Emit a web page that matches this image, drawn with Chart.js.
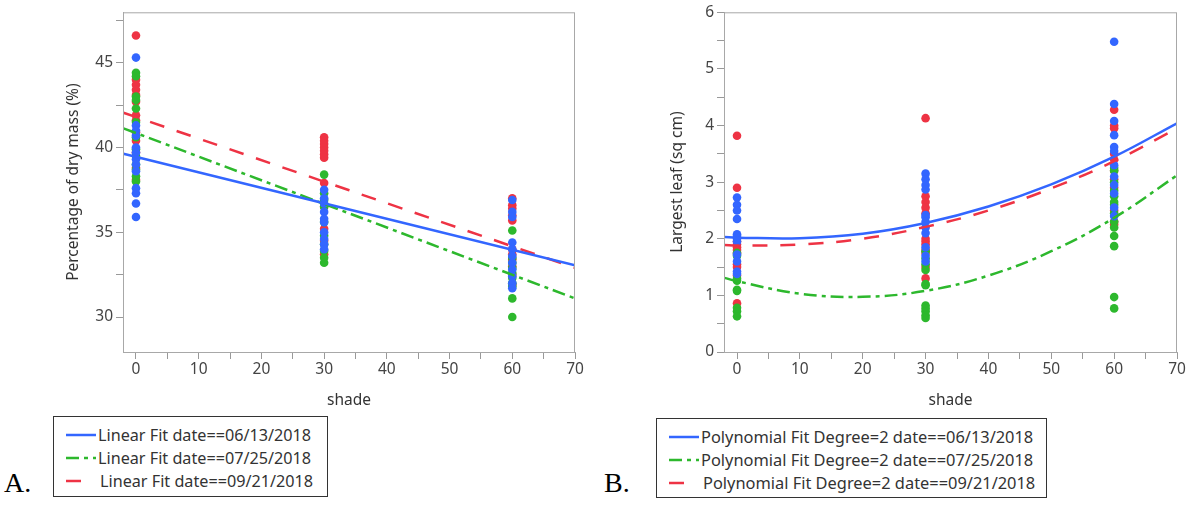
<!DOCTYPE html>
<html>
<head>
<meta charset="utf-8">
<script src="https://cdn.jsdelivr.net/npm/chart.js@4.4.1/dist/chart.umd.min.js"></script>
<style>
  body { margin: 0; background: #fff; width: 1189px; height: 505px; position: relative; overflow: hidden; font-family: 'Noto Sans', sans-serif; }
  .wrap { position: absolute; top: 0; height: 410px; }
  .legend { position: absolute; border: 1px solid #333; background: #fff; color: #333; padding: 6px 0 0 0; box-sizing: border-box; }
  .row { height: 23px; display: flex; align-items: center; white-space: nowrap; }
  .row svg { margin-left: 12px; margin-right: 2px; }
  .tag { position: absolute; font-family: 'Liberation Serif', serif; font-size: 28px; color: #000; }
</style>
</head>
<body>
<div class="wrap" style="left:0;width:590px"><canvas id="chartA"></canvas></div>
<div class="wrap" style="left:600px;width:589px"><canvas id="chartB"></canvas></div>

<div class="tag" style="left:4px;top:467px">A.</div>
<div class="tag" style="left:604px;top:467px">B.</div>
<div class="legend" id="legA" style="left:53px;top:416px;width:275px;height:81px;font-size:16.2px"></div>
<div class="legend" id="legB" style="left:656px;top:418px;width:391px;height:80px;font-size:16.4px"></div>

<script>
// colours / dates
const dates = ['06/13/2018', '07/25/2018', '09/21/2018'];
const colors = ['#3366FF', '#2DB82D', '#EE3344'];
const dashes = [[], [13, 5, 4, 5], [15, 13]];

// --- A: percentage of dry mass, points at shade 0 / 30 / 60
const dryBlue0 = [45.3, 41.3, 41.0, 40.7, 40.0, 39.7, 39.3, 39.0, 38.6, 37.6, 37.3, 36.7, 35.9];
const dryGreen0 = [44.4, 44.2, 43.0, 42.8, 42.3, 41.5, 40.6, 39.9, 39.5, 39.0, 38.7, 38.3, 38.0];
const dryRed0 = [46.6, 44.0, 43.7, 43.4, 43.1, 42.7, 41.9, 41.6, 40.9, 40.4, 39.7, 38.8, 38.1];
const dryBlue30 = [37.5, 37.0, 36.7, 36.2, 35.8, 35.6, 35.0, 34.6, 34.3, 34.0];
const dryGreen30 = [38.4, 37.3, 36.9, 36.5, 35.6, 34.8, 34.3, 33.9, 33.5, 33.2];
const dryRed30 = [40.6, 40.4, 40.2, 40.0, 39.8, 39.6, 39.4, 37.9, 36.5, 35.2, 34.5, 33.7];
const dryBlue60 = [36.9, 36.2, 35.9, 34.4, 34.0, 33.6, 33.2, 32.8, 32.4, 32.0, 31.7];
const dryGreen60 = [35.1, 33.5, 33.2, 32.9, 32.6, 32.3, 32.0, 31.8, 31.1, 30.0];
const dryRed60 = [37.0, 36.6, 36.4, 36.0, 35.7, 34.0, 33.7, 33.4, 33.0, 32.5, 31.9];

// linear fit ends read at shade -2 and 70
const fitXA = [-2, 70];
const dryFitBlue = [39.63, 33.06];
const dryFitGreen = [41.13, 31.1];
const dryFitRed = [42.05, 32.9];

// --- B: largest leaf
const leafBlue0 = [2.73, 2.6, 2.5, 2.35, 2.08, 2.05, 2.0, 1.95, 1.72, 1.6, 1.42, 1.38];
const leafGreen0 = [1.75, 1.7, 1.3, 1.26, 1.1, 1.08, 0.78, 0.72, 0.63];
const leafRed0 = [3.82, 2.9, 1.95, 1.9, 1.85, 1.8, 1.75, 1.55, 1.5, 1.35, 0.86];
const leafBlue30 = [3.15, 3.05, 2.95, 2.87, 2.42, 2.38, 2.3, 2.2, 2.1, 1.85, 1.7, 1.6];
const leafGreen30 = [1.78, 1.65, 1.55, 1.45, 1.2, 1.18, 0.82, 0.77, 0.72, 0.65, 0.6];
const leafRed30 = [4.13, 2.75, 2.65, 2.55, 2.45, 2.0, 1.95, 1.9, 1.8, 1.75, 1.5, 1.3];
const leafBlue60 = [5.48, 4.38, 4.08, 3.83, 3.62, 3.55, 3.3, 3.1, 2.95, 2.8, 2.55, 2.4];
const leafGreen60 = [3.25, 3.2, 3.0, 2.85, 2.75, 2.65, 2.6, 2.45, 2.3, 2.2, 2.05, 1.87, 0.97, 0.77];
const leafRed60 = [4.28, 4.0, 3.95, 3.5, 3.4, 3.2, 3.05, 2.9, 2.5, 2.3, 2.25];

// quadratic fit curves
const fitXB = [-2, 0, 10, 20, 30, 40, 50, 60, 70];
const leafFitBlue = [2.03, 2.02, 2.01, 2.09, 2.28, 2.57, 2.96, 3.45, 4.04];
const leafFitGreen = [1.31, 1.25, 1.03, 0.975, 1.08, 1.35, 1.78, 2.37, 3.12];
const leafFitRed = [1.89, 1.88, 1.9, 2.0, 2.21, 2.5, 2.89, 3.37, 3.95];

function pts(groups) {
  // groups: [[shade, values], ...]
  const out = [];
  groups.forEach(([x, vals]) => vals.forEach(v => out.push({ x: x, y: v })));
  return out;
}
function line(xs, ys) { return xs.map((x, i) => ({ x: x, y: ys[i] })); }

const frame = {
  id: 'frame',
  afterDraw(chart) {
    const a = chart.chartArea, c = chart.ctx;
    c.save();
    c.strokeStyle = '#a8a8a8';
    c.lineWidth = 1;
    c.strokeRect(a.left + 0.5, a.top + 0.5, a.right - a.left - 1, a.bottom - a.top);
    c.restore();
  }
};

function makeChart(id, scatter, fits, fitX, yMin, yMax, yStep, yTitle, padLeft, yWidth) {
  const datasets = [];
  fits.forEach((f, i) => datasets.push({
    type: 'line', data: line(fitX, f), borderColor: colors[i], borderWidth: 2.5,
    borderDash: dashes[i], pointRadius: 0, tension: 0.4, order: 0
  }));
  scatter.forEach((s, i) => datasets.push({
    type: 'scatter', data: s, backgroundColor: colors[i], borderColor: colors[i],
    pointRadius: 4.3, borderWidth: 0, order: 1
  }));
  const tickFont = { family: 'Noto Sans', size: 15.5 };
  return new Chart(document.getElementById(id), {
    data: { datasets: datasets },
    options: {
      responsive: true,
      maintainAspectRatio: false,
      animation: false,
      layout: { padding: { left: padLeft, top: 12, right: id === 'chartA' ? 15 : 12, bottom: 0 } },
      plugins: { legend: { display: false }, tooltip: { enabled: false } },
      scales: {
        x: {
          type: 'linear', min: -2.07, max: 70,
          afterFit: s => { s.height = 58; },
          ticks: {
            stepSize: 5, includeBounds: false, color: '#444', font: tickFont, maxRotation: 0, autoSkip: false, padding: 1,
            callback: v => (Math.abs(v % 10) < 1e-6 ? v : '')
          },
          grid: { drawOnChartArea: false, tickLength: 7, color: '#999' },
          border: { color: '#a8a8a8' },
          title: { display: true, text: 'shade', color: '#333', font: tickFont, padding: 0 }
        },
        y: {
          type: 'linear', min: yMin, max: yMax,
          afterFit: s => { s.width = yWidth; },
          ticks: {
            stepSize: yStep, includeBounds: false, color: '#444', font: tickFont, autoSkip: false, padding: 3,
            callback: v => (Math.abs(v - Math.round(v / (2 * yStep)) * 2 * yStep) < 1e-6 ? v : '')
          },
          grid: { drawOnChartArea: false, tickLength: 7, color: '#999' },
          border: { color: '#a8a8a8' },
          title: { display: true, text: yTitle, color: '#333', font: tickFont, padding: 0 }
        }
      }
    },
    plugins: [frame]
  });
}

makeChart('chartA',
  [pts([[0, dryBlue0], [30, dryBlue30], [60, dryBlue60]]),
   pts([[0, dryGreen0], [30, dryGreen30], [60, dryGreen60]]),
   pts([[0, dryRed0], [30, dryRed30], [60, dryRed60]])],
  [dryFitBlue, dryFitGreen, dryFitRed], fitXA,
  27.94, 47.97, 2.5, 'Percentage of dry mass (%)', 64, 59);

makeChart('chartB',
  [pts([[0, leafBlue0], [30, leafBlue30], [60, leafBlue60]]),
   pts([[0, leafGreen0], [30, leafGreen30], [60, leafGreen60]]),
   pts([[0, leafRed0], [30, leafRed30], [60, leafRed60]])],
  [leafFitBlue, leafFitGreen, leafFitRed], fitXB,
  0, 6, 0.5, 'Largest leaf (sq cm)', 68, 56);

// legends
function legend(id, prefix, widths) {
  const el = document.getElementById(id);
  dates.forEach((d, i) => {
    const row = document.createElement('div');
    row.className = 'row';
    const dash = dashes[i].length ? 'stroke-dasharray="' + dashes[i].join(' ') + '"' : '';
    row.innerHTML = '<svg width="' + widths[i] + '" height="6"><line x1="0" y1="3" x2="' + widths[i] +
      '" y2="3" stroke="' + colors[i] + '" stroke-width="2.5" ' + dash + '/></svg>' +
      '<span style="margin-left:' + (i === 2 ? 16 : 0) + 'px">' + prefix + ' date==' + d + '</span>';
    el.appendChild(row);
  });
}
legend('legA', 'Linear Fit', [30, 30, 16]);
legend('legB', 'Polynomial Fit Degree=2', [30, 30, 16]);
</script>
</body>
</html>
